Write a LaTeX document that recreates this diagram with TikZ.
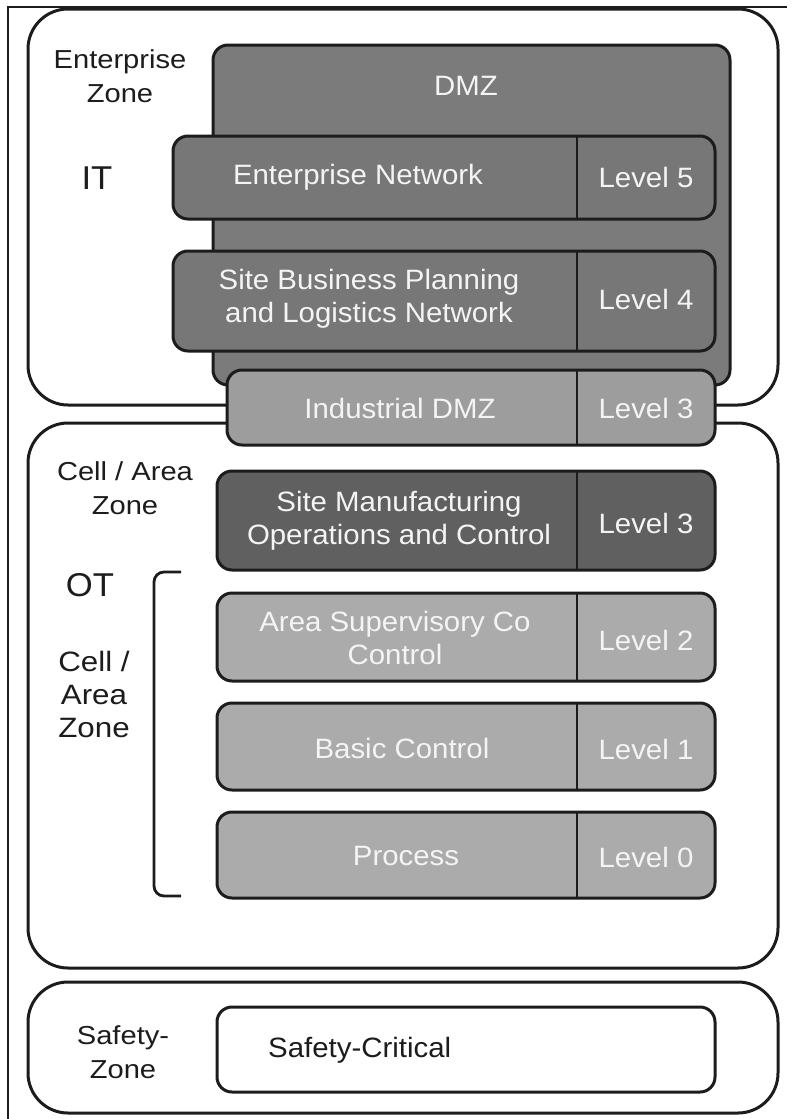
\documentclass[tikz,border=0pt]{standalone}
\usepackage{fontspec}
\setmainfont{Liberation Sans}
\newfontfamily\boxfont[FakeStretch=1.05]{Liberation Sans}
\newfontfamily\zonefont[FakeStretch=1.12]{Liberation Sans}

\definecolor{dmzgray}{HTML}{7B7B7B}
\definecolor{netgray}{HTML}{777777}
\definecolor{idmzgray}{HTML}{9D9D9D}
\definecolor{mfggray}{HTML}{606060}
\definecolor{ctlgray}{HTML}{ABABAB}
\definecolor{ink}{HTML}{1C1C1C}
\definecolor{boxtext}{HTML}{F4F4F4}

% rounded box given by its corners: name, style, x1, y1, x2, y2
\newcommand{\areabox}[6]{%
  \pgfmathsetmacro{\boxw}{#5-#3}%
  \pgfmathsetmacro{\boxh}{#6-#4}%
  \node[#2, anchor=north west, minimum width=\boxw pt, minimum height=\boxh pt,
        inner sep=0pt, outer sep=0pt] (#1) at (#3,#4) {};}

\begin{document}
\begin{tikzpicture}[x=1pt,y=-1pt,
  zone/.style={draw=ink, line width=3pt, rounded corners=40pt, fill=white},
  tier/.style={draw=ink, line width=3pt, rounded corners=15pt},
  divider/.style={draw=ink, line width=2.8pt},
  boxlabel/.style={text=boxtext, font=\boxfont\fontsize{28}{33}\selectfont, align=center, inner sep=0pt},
  zonelabel/.style={text=ink, font=\zonefont\fontsize{26}{34}\selectfont, align=center, inner sep=0pt},
  bigzonelabel/.style={text=ink, font=\boxfont\fontsize{33}{36}\selectfont, inner sep=0pt},
  sidelabel/.style={text=ink, font=\zonefont\fontsize{28}{33}\selectfont, align=center, inner sep=0pt},
]
\fill[white] (0,0) rectangle (795,1119);
\useasboundingbox (0,0) rectangle (795,1119);

% page frame (left and top edges)
\draw[ink, line width=2pt] (8,1119) -- (8,7) -- (787,7);

\coordinate (divx) at (577,0);

% zones
\areabox{entzone}{zone}{28}{9}{778}{405}
\areabox{cellzone}{zone}{28}{423}{778}{968}
\areabox{safezone}{zone}{28}{982}{778}{1113}

% IT side
\areabox{dmz}{tier, fill=dmzgray}{213}{45}{730}{385}
\areabox{entnet}{tier, fill=netgray}{173}{136}{715}{219}
\draw[divider] (entnet.north -| divx) -- (entnet.south -| divx);
\areabox{sitebiz}{tier, fill=netgray}{173}{251}{715}{351}
\draw[divider] (sitebiz.north -| divx) -- (sitebiz.south -| divx);
\areabox{idmz}{tier, fill=idmzgray}{227}{370}{715}{445}
\draw[divider] (idmz.north -| divx) -- (idmz.south -| divx);

% OT side
\areabox{sitemfg}{tier, fill=mfggray}{217}{471}{715}{570}
\draw[divider] (sitemfg.north -| divx) -- (sitemfg.south -| divx);
\areabox{areasup}{tier, fill=ctlgray}{217}{593}{715}{681}
\draw[divider] (areasup.north -| divx) -- (areasup.south -| divx);
\areabox{basic}{tier, fill=ctlgray}{217}{703}{715}{790}
\draw[divider] (basic.north -| divx) -- (basic.south -| divx);
\areabox{process}{tier, fill=ctlgray}{217}{812}{715}{898}
\draw[divider] (process.north -| divx) -- (process.south -| divx);

% safety
\areabox{safecrit}{tier, fill=white}{217}{1007}{715}{1092}

% bracket grouping the cell/area levels
\draw[ink, line width=2.8pt, rounded corners=10pt] (181,572) -- (154,572) -- (154,896) -- (181,896);

% box texts
\node[boxlabel] (dmz-t) at (466,86) {DMZ};
\node[boxlabel] (entnet-t) at (358,177) {Enterprise Network};
\node[boxlabel] (entnet-l) at (646,177) {Level 5};
\node[boxlabel] (sitebiz-t) at (369,299) {Site Business Planning\\and Logistics Network};
\node[boxlabel] (sitebiz-l) at (646,299) {Level 4};
\node[boxlabel] (idmz-t) at (400,408) {Industrial DMZ};
\node[boxlabel] (idmz-l) at (646,408) {Level 3};
\node[boxlabel] (sitemfg-t) at (399,521) {Site Manufacturing\\Operations and Control};
\node[boxlabel] (sitemfg-l) at (646,523) {Level 3};
\node[boxlabel] (areasup-t) at (395,638) {Area Supervisory Co\\Control};
\node[boxlabel] (areasup-l) at (646,640) {Level 2};
\node[boxlabel] (basic-t) at (402,748) {Basic Control};
\node[boxlabel] (basic-l) at (646,749) {Level 1};
\node[boxlabel] (process-t) at (406,856) {Process};
\node[boxlabel] (process-l) at (646,857) {Level 0};
\node[boxlabel, text=ink, anchor=west] (safecrit-t) at (268,1050) {Safety-Critical};

% zone texts
\node[zonelabel] (entzone-t) at (120,76) {Enterprise\\Zone};
\node[bigzonelabel] (it-t) at (97,178) {IT};
\node[zonelabel] (cellzone-t) at (125,488) {Cell / Area\\Zone};
\node[bigzonelabel] (ot-t) at (90,585) {OT};
\node[sidelabel] (cellarea-t) at (94,694) {Cell /\\Area\\Zone};
\node[zonelabel] (safezone-t) at (123,1052) {Safety-\\Zone};
\end{tikzpicture}
\end{document}
